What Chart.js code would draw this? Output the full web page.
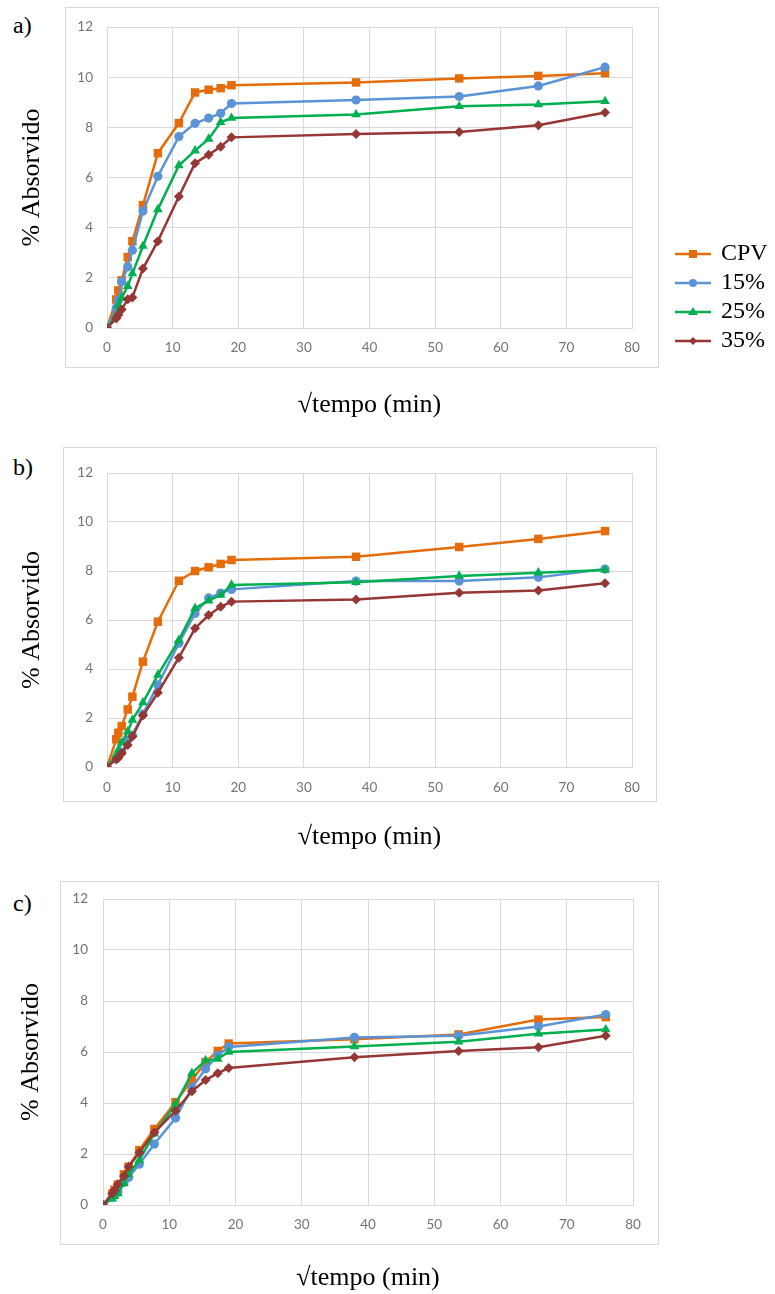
<!DOCTYPE html>
<html>
<head>
<meta charset="utf-8">
<script src="https://cdn.jsdelivr.net/npm/chart.js@4.4.1/dist/chart.umd.min.js"></script>
<style>
  body { margin: 0; background: #fff; width: 775px; height: 1294px; position: relative; overflow: hidden; }
  .frame { position: absolute; border: 1px solid #d9d9d9; box-sizing: border-box; }
  canvas { position: absolute; left: 0; }
  .tag { position: absolute; left: 13px; font: 24px "Liberation Serif", serif; color: #000; line-height: 28px; }
  #legend { position: absolute; left: 675px; top: 238px; font: 24px "Liberation Serif", serif; color: #000; }
  #legend div { height: 29px; line-height: 29px; white-space: nowrap; }
  #legend svg { vertical-align: middle; margin-right: 10px; }
</style>
</head>
<body>

<div class="frame" style="left:65px;top:7px;width:594px;height:361px"></div>
<div class="frame" style="left:63px;top:447px;width:594px;height:355px"></div>
<div class="frame" style="left:60px;top:881px;width:599px;height:364px"></div>

<div class="tag" style="top:11px">a)</div>
<div class="tag" style="top:453px">b)</div>
<div class="tag" style="top:889px">c)</div>

<canvas id="chartA" width="775" height="430" style="top:0px"></canvas>
<canvas id="chartB" width="775" height="420" style="top:440px"></canvas>
<canvas id="chartC" width="775" height="424" style="top:870px"></canvas>

<div id="legend"></div>

<script>
// raiz do tempo (min) em cada leitura
const sqrtTempo = [0, 1.41, 1.73, 2.24, 3.16, 3.87, 5.48, 7.75, 10.95, 13.42, 15.49, 17.32, 18.97, 37.95, 53.67, 65.73, 75.89];

const seriesNames = ['CPV', '15%', '25%', '35%'];
const xTicks = [0, 10, 20, 30, 40, 50, 60, 70, 80];
const yTicks = [0, 2, 4, 6, 8, 10, 12];

// a)
const aCPV = [0, 1.14, 1.5, 1.9, 2.83, 3.46, 4.9, 6.97, 8.17, 9.39, 9.5, 9.56, 9.68, 9.79, 9.95, 10.05, 10.16];
const a15 = [0, 0.8, 1.1, 1.84, 2.44, 3.1, 4.66, 6.05, 7.63, 8.16, 8.37, 8.56, 8.95, 9.09, 9.23, 9.65, 10.4];
const a25 = [0, 0.5, 0.9, 1.2, 1.67, 2.17, 3.27, 4.73, 6.48, 7.07, 7.54, 8.2, 8.37, 8.51, 8.84, 8.91, 9.04];
const a35 = [0, 0.38, 0.52, 0.74, 1.15, 1.22, 2.37, 3.46, 5.24, 6.57, 6.91, 7.23, 7.6, 7.73, 7.81, 8.08, 8.59];

// b)
const bCPV = [0, 1.13, 1.4, 1.67, 2.35, 2.87, 4.3, 5.93, 7.6, 8.0, 8.15, 8.29, 8.45, 8.58, 8.98, 9.31, 9.63];
const b15 = [0, 0.35, 0.45, 0.6, 1.1, 1.3, 2.16, 3.35, 5.05, 6.27, 6.9, 7.1, 7.25, 7.59, 7.59, 7.74, 8.08];
const b25 = [0, 0.5, 0.7, 1.0, 1.45, 1.92, 2.63, 3.76, 5.18, 6.48, 6.79, 7.02, 7.43, 7.54, 7.8, 7.93, 8.04];
const b35 = [0, 0.31, 0.38, 0.56, 0.9, 1.24, 2.1, 3.03, 4.46, 5.66, 6.2, 6.54, 6.75, 6.84, 7.11, 7.2, 7.5];

// c)
const cCPV = [0, 0.45, 0.6, 0.8, 1.2, 1.5, 2.15, 2.98, 4.03, 4.9, 5.6, 6.04, 6.33, 6.5, 6.69, 7.27, 7.37];
const c15 = [0, 0.3, 0.4, 0.5, 0.88, 1.08, 1.6, 2.39, 3.41, 4.6, 5.34, 5.87, 6.2, 6.57, 6.64, 7.0, 7.47];
const c25 = [0, 0.25, 0.35, 0.45, 0.85, 1.2, 1.76, 2.8, 3.96, 5.17, 5.67, 5.73, 6.0, 6.22, 6.4, 6.72, 6.88];
const c35 = [0, 0.45, 0.58, 0.81, 1.14, 1.5, 2.06, 2.84, 3.7, 4.46, 4.9, 5.17, 5.37, 5.79, 6.04, 6.19, 6.64];

const colors = ['#E46C0A', '#5B93D7', '#00B050', '#953735'];
const markers = ['rect', 'circle', 'triangle', 'rectRot'];
const markerSize = [6, 4.6, 5.6, 5];

function makeDatasets(lists) {
    return lists.map((vals, i) => ({
        label: seriesNames[i],
        data: vals.map((v, k) => ({ x: sqrtTempo[k], y: v })),
        showLine: true,
        borderColor: colors[i],
        backgroundColor: colors[i],
        borderWidth: 2.5,
        pointStyle: markers[i],
        pointRadius: markerSize[i],
        pointBorderWidth: 0,
        order: 4 - i
    }));
}

function makeChart(id, lists, cfg) {
    const grid = '#d9d9d9';
    const tickFont = { family: 'Lato', size: 13.5 };
    const titleFont = { family: 'Liberation Serif', size: 26 };
    return new Chart(document.getElementById(id), {
        type: 'scatter',
        data: { datasets: makeDatasets(lists) },
        options: {
            responsive: false,
            animation: false,
            layout: { padding: { top: cfg.padTop, right: cfg.padRight, bottom: 0, left: 0 } },
            plugins: { legend: { display: false }, tooltip: { enabled: false } },
            scales: {
                x: {
                    type: 'linear', min: 0, max: 80,
                    afterBuildTicks: s => { s.ticks = xTicks.map(v => ({ value: v })); },
                    afterFit: s => { s.height = cfg.xAxisH; s.paddingLeft = 0; s.paddingRight = 0; },
                    grid: { color: grid, drawTicks: false },
                    border: { color: grid },
                    ticks: { color: '#737373', font: tickFont, padding: cfg.xTickPad, maxRotation: 0 },
                    title: { display: true, text: '√tempo (min)', color: '#000', font: titleFont, padding: { top: 0, bottom: cfg.xTitlePad } }
                },
                y: {
                    type: 'linear', min: 0, max: 12,
                    afterBuildTicks: s => { s.ticks = yTicks.map(v => ({ value: v })); },
                    afterFit: s => { s.width = cfg.yAxisW; s.paddingTop = 0; s.paddingBottom = 0; },
                    grid: { color: grid, drawTicks: false },
                    border: { color: grid },
                    ticks: { color: '#737373', font: tickFont, padding: cfg.yTickPad },
                    title: { display: true, text: '% Absorvido', color: '#000', font: titleFont, padding: { top: cfg.yTitlePad, bottom: 0 } }
                }
            }
        }
    });
}

makeChart('chartA', [aCPV, a15, a25, a35],
    { padTop: 27, padRight: 143, xAxisH: 102, yAxisW: 107, xTickPad: 12, yTickPad: 14, xTitlePad: 9.4, yTitlePad: 16.4 });
makeChart('chartB', [bCPV, b15, b25, b35],
    { padTop: 33, padRight: 143, xAxisH: 93, yAxisW: 107, xTickPad: 13, yTickPad: 14, xTitlePad: 7.4, yTitlePad: 16.4 });
makeChart('chartC', [cCPV, c15, c25, c35],
    { padTop: 29, padRight: 142, xAxisH: 89, yAxisW: 103, xTickPad: 12, yTickPad: 15, xTitlePad: 0.4, yTitlePad: 15.4 });

// legenda (só no painel a)
const shapes = [
    c => `<rect x="14" y="3" width="8" height="8" fill="${c}"/>`,
    c => `<circle cx="18" cy="7" r="4" fill="${c}"/>`,
    c => `<polygon points="18,2 23,10 13,10" fill="${c}"/>`,
    c => `<polygon points="18,3 22,7 18,11 14,7" fill="${c}"/>`
];
const legend = document.getElementById('legend');
seriesNames.forEach((name, i) => {
    const row = document.createElement('div');
    row.innerHTML = `<svg width="36" height="14"><line x1="0" y1="7" x2="36" y2="7" stroke="${colors[i]}" stroke-width="2.5"/>${shapes[i](colors[i])}</svg>${name}`;
    legend.appendChild(row);
});
</script>
</body>
</html>
